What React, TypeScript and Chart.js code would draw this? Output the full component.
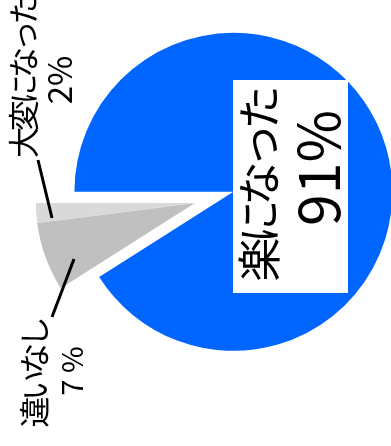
import React, { useEffect, useRef } from "react";
import { Chart, registerables } from "chart.js";

Chart.register(...registerables);

// ---- data ----
const categories = ["楽になった", "違いなし", "大変になった"];
const values = [91, 7, 2];
const valueLabels = ["91%", "7 %", "2%"];
const colors = ["#0066FF", "#C0C0C0", "#D9D9D9"];
const explode = [40, 0, 0];

const FONT = '"Noto Sans CJK JP", "Noto Sans", sans-serif';

function drawRot(
  ctx: CanvasRenderingContext2D,
  text: string,
  x: number,
  y: number,
  size: number,
  align: CanvasTextAlign,
  baseline: CanvasTextBaseline,
  spacing: number
) {
  ctx.save();
  ctx.translate(x, y);
  ctx.rotate(-Math.PI / 2);
  ctx.font = `${size}px ${FONT}`;
  (ctx as any).letterSpacing = `${spacing}px`;
  ctx.textAlign = align;
  ctx.textBaseline = baseline;
  ctx.fillStyle = "#000";
  ctx.fillText(text, 0, 0);
  ctx.restore();
}

// shifts exploded slices outward along their mid-angle (pure translation)
const explodePlugin = {
  id: "explode",
  afterDatasetUpdate(chart: any, args: any) {
    const meta = args.meta;
    meta.data.forEach((arc: any, i: number) => {
      const d = explode[i] || 0;
      if (!d) return;
      const mid = (arc.startAngle + arc.endAngle) / 2;
      arc.x += Math.cos(mid) * d;
      arc.y += Math.sin(mid) * d;
    });
  },
};

const labelPlugin = {
  id: "rotLabels",
  afterDatasetsDraw(chart: any) {
    const ctx: CanvasRenderingContext2D = chart.ctx;
    ctx.save();
    // white box behind main label
    ctx.fillStyle = "#FFFFFF";
    ctx.fillRect(233, 80, 115, 213);
    // main slice label
    drawRot(ctx, categories[0], 259, 186.5, 44, "center", "middle", -6);
    drawRot(ctx, valueLabels[0], 340, 168, 57, "center", "alphabetic", 0);

    // leader lines
    ctx.strokeStyle = "#000";
    ctx.lineWidth = 3;
    ctx.lineCap = "butt";
    ctx.beginPath();
    ctx.moveTo(38, 160);
    ctx.lineTo(52, 218);
    ctx.moveTo(74, 259);
    ctx.lineTo(52, 317);
    ctx.stroke();

    // small labels
    drawRot(ctx, categories[2], 23, 158, 31, "left", "middle", -4.3);
    drawRot(ctx, valueLabels[2], 72, 80, 33, "center", "alphabetic", 0);
    drawRot(ctx, categories[1], 34, 374, 31, "center", "middle", -4.3);
    drawRot(ctx, valueLabels[1], 83, 371, 29, "center", "alphabetic", 0);
    ctx.restore();
  },
};

export default function App() {
  const ref = useRef<HTMLCanvasElement | null>(null);
  useEffect(() => {
    if (!ref.current) return;
    const chart = new Chart(ref.current, {
      type: "pie",
      data: {
        labels: categories,
        datasets: [
          {
            data: values,
            backgroundColor: colors,
            borderWidth: 0,
            radius: 159,
            rotation: 270,
            clip: false,
          } as any,
        ],
      },
      options: {
        responsive: false,
        animation: false,
        devicePixelRatio: 1,
        layout: { padding: { left: 0, right: 1, top: 0, bottom: 40 } },
        plugins: {
          legend: { display: false },
          tooltip: { enabled: false },
        },
        events: [],
      } as any,
      plugins: [explodePlugin, labelPlugin],
    });
    return () => chart.destroy();
  }, []);
  return (
    <div style={{ position: "fixed", left: 0, top: 0, width: 391, height: 446 }}>
      <canvas ref={ref} width={391} height={446} style={{ display: "block" }} />
    </div>
  );
}
